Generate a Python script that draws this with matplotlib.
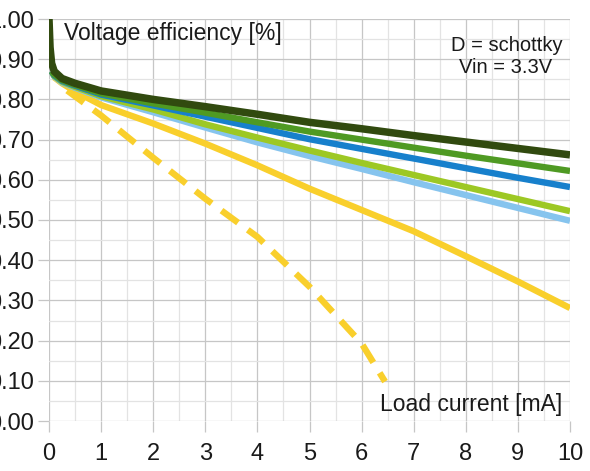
import matplotlib
matplotlib.use("Agg")
import matplotlib.pyplot as plt
from matplotlib.ticker import MultipleLocator, FormatStrFormatter

plt.rcParams['font.family'] = ['Liberation Sans', 'DejaVu Sans']

# ---- data ----
x_dark = [0.0, 0.02, 0.05, 0.1, 0.25, 0.5, 1, 2, 3, 4, 5, 6, 7, 8, 9, 10]
y_dark = [1.00, 0.93, 0.89, 0.87, 0.852, 0.840, 0.821, 0.800, 0.782, 0.763, 0.743, 0.727, 0.710, 0.694, 0.678, 0.662]

x_std = [0.05, 0.1, 0.25, 0.5, 1, 2, 3, 4, 5, 6, 7, 8, 9, 10]
y_green = [0.87, 0.862, 0.848, 0.836, 0.815, 0.790, 0.767, 0.743, 0.720, 0.700, 0.680, 0.660, 0.641, 0.622]
y_blue = [0.87, 0.860, 0.846, 0.834, 0.812, 0.785, 0.757, 0.729, 0.701, 0.677, 0.653, 0.629, 0.605, 0.582]
y_lgreen = [0.87, 0.858, 0.844, 0.831, 0.808, 0.775, 0.738, 0.705, 0.673, 0.642, 0.612, 0.582, 0.552, 0.522]
y_lblue = [0.87, 0.857, 0.842, 0.829, 0.805, 0.768, 0.730, 0.693, 0.659, 0.627, 0.594, 0.562, 0.530, 0.498]

x_yel = [0.1, 0.25, 0.5, 1, 2, 3, 4, 5, 6, 7, 8, 9, 10]
y_yel = [0.855, 0.840, 0.820, 0.786, 0.740, 0.690, 0.636, 0.578, 0.525, 0.472, 0.410, 0.347, 0.281]

x_dash = [0.35, 1, 2, 3, 4, 5, 6, 6.45]
y_dash = [0.822, 0.760, 0.655, 0.553, 0.458, 0.334, 0.193, 0.098]

x_ticks = [0, 1, 2, 3, 4, 5, 6, 7, 8, 9, 10]
y_ticks = [0.0, 0.1, 0.2, 0.3, 0.4, 0.5, 0.6, 0.7, 0.8, 0.9, 1.0]

C_DARK = '#314a0f'
C_GREEN = '#4f9a23'
C_BLUE = '#1780cc'
C_LGREEN = '#9dc824'
C_LBLUE = '#86c4ee'
C_YEL = '#f9cf2c'

fig = plt.figure(figsize=(5.9, 4.71), dpi=100)
ax = fig.add_axes([49/590, (471-421)/471, (570-49)/590, (421-19)/471])

ax.plot(x_dash, y_dash, color=C_YEL, lw=4.6, ls=(0, (3.2, 1.9)), dash_capstyle='butt', zorder=3)
ax.plot(x_yel, y_yel, color=C_YEL, lw=4.6, solid_capstyle='butt', zorder=3)
ax.plot(x_std, y_lblue, color=C_LBLUE, lw=4.6, solid_capstyle='butt', zorder=4)
ax.plot(x_std, y_lgreen, color=C_LGREEN, lw=4.6, solid_capstyle='butt', zorder=5)
ax.plot(x_std, y_blue, color=C_BLUE, lw=4.6, solid_capstyle='butt', zorder=6)
ax.plot(x_std, y_green, color=C_GREEN, lw=4.6, solid_capstyle='butt', zorder=7)
ax.plot(x_dark, y_dark, color=C_DARK, lw=5.4, solid_capstyle='butt', zorder=8)

ax.set_xlim(0, 10)
ax.set_ylim(0, 1.0)
ax.set_xticks(x_ticks)
ax.set_yticks(y_ticks)
ax.yaxis.set_major_formatter(FormatStrFormatter('%.2f'))
ax.xaxis.set_minor_locator(MultipleLocator(0.5))
ax.yaxis.set_minor_locator(MultipleLocator(0.05))
ax.grid(which='major', color='#c6c6c6', lw=0.9)
ax.grid(which='minor', color='#e3e3e3', lw=0.9)
ax.set_axisbelow(True)
for s in ax.spines.values():
    s.set_visible(False)
ax.tick_params(which='major', length=8, width=0.9, color='#c6c6c6',
               labelsize=17, labelcolor='#1a1a1a')
ax.tick_params(axis='x', which='major', pad=8)
ax.tick_params(axis='y', which='major', pad=3)
ax.tick_params(which='minor', length=0)

ax.text(0.28, 0.965, 'Voltage efficiency [%]', fontsize=16.5, color='#1a1a1a',
        ha='left', va='center', zorder=10)
ax.text(9.85, 0.935, 'D = schottky', fontsize=14.5, color='#1a1a1a',
        ha='right', va='center', zorder=10)
ax.text(8.77, 0.88, 'Vin = 3.3V', fontsize=14.5, color='#1a1a1a',
        ha='center', va='center', zorder=10)
ax.text(9.85, 0.04, 'Load current [mA]', fontsize=16.5, color='#1a1a1a',
        ha='right', va='center', zorder=10)

fig.savefig('out.png', dpi=100)
